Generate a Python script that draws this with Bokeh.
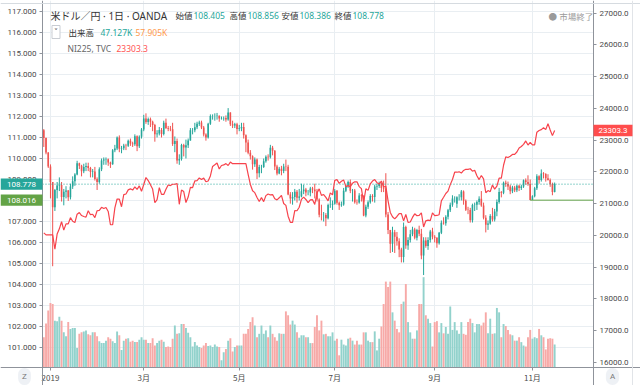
import pandas as pd
from bokeh.plotting import figure
from bokeh.models import (Range1d, LinearAxis, FixedTicker, PrintfTickFormatter, Span, Label,
                          ColumnDataSource, BoxAnnotation)
from bokeh.embed import file_html
from bokeh.resources import INLINE

# ---------------- data (USD/JPY daily, OANDA; NI225 overlay) ----------------
dates = [d.strftime("%Y-%m-%d") for d in pd.bdate_range("2018-12-27", "2019-11-15")]
dates = [d for d in dates if d != "2019-01-01"]

opens = [
    111.35, 110.98, 110.28,
    109.62, 108.88, 107.68, 108.50, 108.72, 108.74, 108.17, 108.42, 108.48, 108.16, 108.67, 108.92, 109.24, 109.77, 109.66, 109.39, 109.59, 109.64, 109.55, 109.36, 109.38, 109.02,
    108.88, 109.49, 109.90, 109.95, 109.97, 109.81, 109.73, 110.39, 110.48, 111.00, 110.47, 110.49, 110.62, 110.61, 110.85, 110.71, 110.68, 111.06, 110.58, 111.04,
    111.38, 111.91, 111.74, 111.88, 111.75, 111.60, 111.16, 111.19, 111.36, 111.17, 111.70, 111.45, 111.42, 111.39, 110.69, 110.83, 109.91, 109.98, 110.64, 110.52, 110.63,
    110.86, 111.35, 111.35, 111.49, 111.65, 111.72, 111.48, 111.14, 111.00, 111.65, 112.02, 112.02, 112.02, 112.03, 111.91, 111.92, 111.93, 111.86, 112.19, 111.63, 111.57, 111.63,
    111.40, 111.44, 111.50, 111.11, 110.76, 110.27, 110.11, 109.73, 109.95, 109.30, 109.60, 109.60, 109.87, 110.08, 110.06, 110.51, 110.37, 109.62, 109.29, 109.51, 109.40, 109.62, 109.61,
    108.28, 108.09, 108.17, 108.42, 108.13, 108.19, 108.44, 108.52, 108.38, 108.38, 108.57, 108.52, 108.44, 108.05, 107.32, 107.31, 107.31, 107.16, 107.78, 107.80,
    107.84, 108.46, 107.89, 107.77, 107.81, 108.47, 108.68, 108.88, 108.46, 108.48, 107.92, 107.91, 108.24, 108.22, 107.28, 107.70, 107.92, 108.21, 108.17, 108.67, 108.69, 108.82, 108.59,
    108.57, 107.33, 106.59, 105.94, 106.49, 106.27, 106.06, 105.67, 105.31, 106.74, 105.86, 106.12, 106.39, 106.62, 106.23, 106.60, 106.42, 105.38, 106.10, 105.83, 106.12, 106.52,
    106.27, 106.23, 105.97, 106.46, 106.94, 106.92, 107.23, 107.54, 107.80, 108.09, 107.85, 108.15, 108.15, 108.43, 107.99, 107.56, 107.55, 107.06, 107.79, 107.80, 107.93,
    108.08, 107.76, 107.18, 106.84, 106.90, 107.26, 107.09, 107.48, 107.93, 108.41, 108.37, 108.84, 108.79, 108.67, 108.44, 108.62, 108.49, 108.70, 108.60, 108.67, 108.97, 108.88, 108.79,
    108.02, 108.20, 108.58, 109.15, 108.98, 109.28, 109.26, 109.06, 108.98, 108.79, 108.405,
]
highs = [
    111.40, 111.00, 110.30,
    109.72, 108.88, 108.55, 108.88, 109.10, 108.88, 108.55, 108.68, 108.50, 108.80, 109.15, 109.30, 109.89, 109.80, 109.70, 109.75, 109.80, 109.80, 109.60, 109.50, 109.60, 109.10,
    109.58, 110.00, 110.05, 110.05, 110.00, 109.85, 110.45, 110.65, 111.05, 111.10, 110.60, 110.70, 110.70, 110.90, 110.95, 110.80, 111.15, 111.10, 111.10, 111.45,
    112.08, 112.15, 111.95, 111.95, 111.80, 111.65, 111.35, 111.50, 111.45, 111.80, 111.90, 111.55, 111.55, 111.70, 111.05, 110.95, 110.20, 110.70, 110.70, 110.90, 110.95,
    111.45, 111.45, 111.70, 111.75, 111.80, 111.80, 111.55, 111.20, 111.70, 112.10, 112.10, 112.15, 112.17, 112.05, 112.00, 112.00, 112.05, 112.40, 112.20, 111.80, 111.70, 111.70,
    111.60, 111.70, 111.70, 111.15, 110.90, 110.40, 110.15, 110.05, 110.00, 109.70, 109.70, 110.00, 110.15, 110.20, 110.65, 110.60, 110.40, 109.70, 109.60, 109.65, 109.75, 109.95, 109.70,
    108.40, 108.40, 108.55, 108.50, 108.55, 108.80, 108.75, 108.60, 108.50, 108.65, 108.65, 108.80, 108.55, 108.10, 107.80, 107.45, 107.40, 107.85, 108.15, 108.00,
    108.55, 108.50, 107.95, 107.95, 108.60, 108.75, 108.95, 109.00, 108.55, 108.55, 108.05, 108.35, 108.30, 108.25, 107.80, 108.00, 108.30, 108.30, 108.75, 108.80, 108.90, 108.85, 108.95,
    109.30, 107.45, 106.60, 106.75, 106.60, 106.50, 106.20, 105.75, 106.95, 106.80, 106.25, 106.60, 106.75, 106.70, 106.65, 106.80, 106.65, 106.25, 106.25, 106.25, 106.60, 106.70,
    106.35, 106.25, 106.50, 107.05, 107.20, 107.30, 107.60, 107.90, 108.25, 108.20, 108.20, 108.30, 108.50, 108.48, 108.05, 107.70, 107.65, 107.85, 107.90, 108.00, 108.20,
    108.45, 107.90, 107.30, 107.05, 107.35, 107.65, 107.60, 108.05, 108.60, 108.45, 108.90, 108.95, 108.90, 108.75, 108.70, 108.70, 108.75, 108.75, 108.75, 109.00, 109.05, 109.20, 109.00,
    108.25, 108.65, 109.25, 109.20, 109.48, 109.35, 109.30, 109.25, 109.05, 108.85, 108.856,
]
lows = [
    110.55, 110.20, 109.55,
    108.10, 104.87, 107.50, 108.10, 108.45, 107.95, 107.77, 108.10, 107.98, 108.05, 108.55, 108.70, 109.20, 109.50, 109.15, 109.30, 109.40, 109.40, 109.10, 109.10, 108.95, 108.50,
    108.80, 109.40, 109.70, 109.70, 109.65, 109.55, 109.70, 110.30, 110.40, 110.30, 110.25, 110.40, 110.40, 110.55, 110.60, 110.55, 110.60, 110.35, 110.50, 110.95,
    111.30, 111.65, 111.60, 111.50, 111.30, 110.80, 111.00, 111.10, 111.00, 111.10, 111.40, 111.30, 111.30, 110.60, 110.30, 109.75, 109.70, 109.90, 110.10, 110.00, 110.50,
    110.85, 111.15, 111.25, 111.40, 111.55, 111.40, 111.05, 110.85, 110.95, 111.60, 111.85, 111.80, 111.85, 111.75, 111.85, 111.80, 111.75, 111.80, 111.55, 111.45, 111.45, 111.15,
    111.30, 111.30, 110.95, 110.30, 110.20, 109.95, 109.47, 109.60, 109.02, 109.10, 109.30, 109.55, 109.80, 109.90, 110.00, 110.15, 109.45, 109.20, 109.25, 109.20, 109.30, 109.40, 108.25,
    107.85, 107.80, 108.00, 107.90, 108.00, 108.15, 108.30, 108.20, 108.25, 108.20, 108.35, 108.10, 107.95, 107.20, 107.05, 107.00, 106.78, 107.10, 107.65, 107.55,
    107.80, 107.80, 107.55, 107.70, 107.75, 108.40, 108.60, 108.35, 107.95, 107.85, 107.80, 107.85, 107.95, 107.25, 107.20, 107.60, 107.85, 107.95, 107.90, 108.50, 108.60, 108.40, 108.40,
    107.20, 106.40, 105.50, 105.55, 105.50, 105.85, 105.30, 105.05, 105.05, 105.70, 105.65, 106.00, 106.30, 106.15, 106.10, 106.30, 105.20, 104.45, 105.75, 105.65, 106.00, 106.15,
    106.00, 105.75, 105.90, 106.40, 106.85, 106.80, 107.10, 107.45, 107.70, 107.90, 107.65, 108.00, 108.00, 107.80, 107.50, 107.35, 106.95, 106.95, 107.50, 107.55, 107.80,
    107.70, 107.10, 106.48, 106.60, 106.85, 107.00, 107.00, 107.25, 107.85, 108.15, 108.30, 108.65, 108.50, 108.30, 108.35, 108.40, 108.40, 108.45, 108.50, 108.60, 108.75, 108.70, 108.016,
    108.02, 108.15, 108.50, 108.80, 108.90, 109.05, 108.90, 108.95, 108.65, 108.25, 108.386,
]
closes = [
    110.98, 110.28, 109.62,
    108.88, 107.68, 108.50, 108.72, 108.74, 108.17, 108.42, 108.48, 108.16, 108.67, 108.92, 109.24, 109.77, 109.66, 109.39, 109.59, 109.64, 109.55, 109.36, 109.38, 109.02, 108.88,
    109.49, 109.90, 109.95, 109.97, 109.81, 109.73, 110.39, 110.48, 111.00, 110.47, 110.49, 110.62, 110.61, 110.85, 110.71, 110.68, 111.06, 110.58, 111.04, 111.38,
    111.91, 111.74, 111.88, 111.75, 111.60, 111.16, 111.19, 111.36, 111.17, 111.70, 111.45, 111.42, 111.39, 110.69, 110.83, 109.91, 109.98, 110.64, 110.52, 110.63, 110.86,
    111.35, 111.35, 111.49, 111.65, 111.72, 111.48, 111.14, 111.00, 111.65, 112.02, 112.02, 112.02, 112.03, 111.91, 111.92, 111.93, 111.86, 112.19, 111.63, 111.57, 111.63, 111.40,
    111.44, 111.50, 111.11, 110.76, 110.27, 110.11, 109.73, 109.95, 109.30, 109.60, 109.60, 109.87, 110.08, 110.06, 110.51, 110.37, 109.62, 109.29, 109.51, 109.40, 109.62, 109.61, 108.28,
    108.09, 108.17, 108.42, 108.13, 108.19, 108.44, 108.52, 108.38, 108.38, 108.57, 108.52, 108.44, 108.05, 107.32, 107.31, 107.31, 107.16, 107.78, 107.80, 107.84,
    108.46, 107.89, 107.77, 107.81, 108.47, 108.68, 108.88, 108.46, 108.48, 107.92, 107.91, 108.24, 108.22, 107.28, 107.70, 107.92, 108.21, 108.17, 108.67, 108.69, 108.82, 108.59, 108.57,
    107.33, 106.59, 105.94, 106.49, 106.27, 106.06, 105.67, 105.31, 106.74, 105.86, 106.12, 106.39, 106.62, 106.23, 106.60, 106.42, 105.38, 106.10, 105.83, 106.12, 106.52, 106.27,
    106.23, 105.97, 106.46, 106.94, 106.92, 107.23, 107.54, 107.80, 108.09, 108.09, 108.15, 108.15, 108.43, 107.99, 107.56, 107.55, 107.06, 107.79, 107.80, 107.93, 108.08,
    107.76, 107.18, 106.84, 106.90, 107.26, 107.09, 107.48, 107.93, 108.41, 108.37, 108.84, 108.79, 108.67, 108.44, 108.62, 108.49, 108.70, 108.60, 108.67, 108.97, 108.88, 108.79, 108.02,
    108.20, 108.58, 109.15, 108.98, 109.28, 109.26, 109.06, 108.98, 108.79, 108.41, 108.778,
]
volume_k = [
    62, 90, 117,
    132, 130, 96, 95, 104, 96, 72, 64, 93, 79, 81, 81, 40, 69, 72, 74, 76, 68, 66, 72, 72, 64,
    54, 50, 50, 55, 62, 59, 54, 50, 74, 66, 36, 55, 59, 60, 53, 55, 52, 52, 57, 62,
    57, 57, 50, 50, 60, 45, 50, 55, 57, 53, 42, 43, 42, 59, 86, 69, 70, 89, 89, 81, 71,
    62, 43, 52, 45, 42, 40, 45, 50, 44, 45, 42, 47, 43, 42, 15, 31, 38, 55, 60, 33, 42, 45,
    45, 45, 69, 69, 79, 93, 103, 86, 62, 69, 86, 69, 76, 62, 86, 69, 62, 55, 70, 69, 69, 115, 107,
    88, 96, 88, 72, 61, 66, 66, 62, 62, 50, 50, 83, 107, 76, 96, 68, 69, 64, 64, 72,
    55, 59, 25, 57, 47, 45, 59, 61, 55, 47, 55, 47, 47, 72, 72, 55, 52, 52, 74, 35, 59, 84, 130,
    176, 165, 176, 113, 96, 79, 72, 130, 135, 171, 93, 72, 59, 59, 76, 130, 130, 185, 107, 100, 91, 43,
    93, 95, 72, 91, 70, 83, 69, 125, 77, 93, 76, 69, 93, 69, 67, 93, 100, 91, 72, 89, 89,
    86, 92, 113, 70, 100, 69, 70, 122, 113, 62, 89, 85, 77, 68, 66, 55, 55, 62, 52, 45, 43, 62, 77,
    59, 62, 60, 79, 66, 62, 37, 59, 60, 59, 47.127,
]
n225 = [
    20077, 20014, 20014,
    20014, 20014, 19561, 20038, 20204, 20427, 20163, 20359, 20359, 20555, 20442, 20402, 20666, 20719, 20622, 20593, 20574, 20773, 20649, 20664, 20556, 20773,
    20788, 20883, 20844, 20874, 20751, 20333, 20333, 20864, 21144, 21139, 20900, 21281, 21302, 21431, 21464, 21425, 21528, 21449, 21556, 21385,
    21602, 21822, 21726, 21596, 21456, 21025, 21125, 21503, 21290, 21287, 21450, 21584, 21566, 21608, 21608, 21627, 20977, 21428, 21378, 21033, 21205,
    21509, 21505, 21713, 21724, 21807, 21761, 21802, 21687, 21711, 21870, 22169, 22221, 22277, 22090, 22200, 22218, 22259, 22200, 22307, 22258, 22258, 22258,
    22258, 22258, 22258, 22258, 21923, 21602, 21402, 21344, 21191, 21067, 21188, 21062, 21250, 21301, 21272, 21283, 21151, 21117, 21182, 21260, 21003, 20942, 20601,
    20410, 20408, 20776, 20774, 20884, 21134, 21204, 21129, 21032, 21116, 21124, 20972, 21333, 21462, 21258, 21285, 21193, 21086, 21338, 21275,
    21729, 21754, 21638, 21702, 21746, 21534, 21565, 21533, 21643, 21685, 21685, 21535, 21469, 21046, 21466, 21416, 21620, 21709, 21756, 21658, 21616, 21709, 21521,
    21540, 21087, 20720, 20585, 20516, 20593, 20684, 20684, 20455, 20655, 20405, 20418, 20563, 20677, 20618, 20628, 20710, 20261, 20456, 20479, 20461, 20704,
    20620, 20625, 20649, 21085, 21199, 21318, 21392, 21597, 21759, 21988, 21988, 22001, 21960, 22044, 22079, 22079, 22098, 22020, 22048, 21878, 21756,
    21885, 21778, 21341, 21410, 21375, 21587, 21456, 21551, 21799, 21799, 22207, 22472, 22451, 22492, 22548, 22548, 22625, 22750, 22799, 22867, 22974, 22843, 22927,
    22850, 22850, 23251, 23303, 23330, 23391, 23331, 23520, 23319, 23141, 23303.3,
]
volume_ma_k = 57.905
level_price = 108.016
level_from = "2019-10-31"

month_starts = ["2019-01-02", "2019-03-01", "2019-05-01", "2019-07-01", "2019-09-02", "2019-11-01"]
month_labels = ["2019", "3月", "5月", "7月", "9月", "11月"]
usd_ticks = list(range(101, 118))
n225_ticks = list(range(16000, 27001, 1000))

title_text = "米ドル／円 · 1日 · OANDA"
overlay_name = "NI225, TVC"

# ---------------- styling / layout ----------------
W, H = 640, 385
UP, DN = "#26a69a", "#ef5350"
VUP, VDN = "#92d2cc", "#f7a9a7"
N225_COL = "#f7434c"
LEVEL_COL = "#63a346"
GRID = "#e9eef2"
AXIS = "#8f939b"
TXT = "#4a4a4a"
CJK = "Noto Sans CJK JP"
MIX = "'Noto Sans', 'Noto Sans CJK JP'"
NUM = "Roboto"

# data limits of the price pane (left/right price-scale edges, bottom time-scale edge)
X_LEFT, X_RIGHT, X_BORDER = -0.585, 247.5, 265.06
USD_BOTTOM, USD_TOPLINE = 100.048, 117.381

idx = list(range(len(dates)))
is_up = [c >= o for o, c in zip(opens, closes)]
src = ColumnDataSource(dict(
    x=idx, o=opens, h=highs, l=lows, c=closes, v=volume_k, n=n225,
    col=[UP if u else DN for u in is_up],
    vcol=[VUP if u else VDN for u in is_up],
))

p = figure(width=W, height=H, output_backend="svg", toolbar_location=None,
           x_range=Range1d(-19.496, 268.66), y_range=Range1d(99.19, 117.524),
           min_border=0, min_border_left=0, min_border_right=0, min_border_top=0, min_border_bottom=0,
           background_fill_color="white", border_fill_color="white")
p.extra_y_ranges = {"n225": Range1d(15266, 27400), "vol": Range1d(-36.9, 752.0)}
p.outline_line_color = None

# axes (drawn at the pane edges)
ya = p.yaxis[0]
ya.ticker = FixedTicker(ticks=usd_ticks)
ya.formatter = PrintfTickFormatter(format="%.3f")
ya.fixed_location = X_LEFT
ra = LinearAxis(y_range_name="n225", ticker=FixedTicker(ticks=n225_ticks),
                formatter=PrintfTickFormatter(format="%.1f"), fixed_location=X_RIGHT)
p.add_layout(ra, "right")
xa = p.xaxis[0]
tick_idx = [dates.index(d) for d in month_starts]
xa.ticker = FixedTicker(ticks=tick_idx)
xa.major_label_overrides = {t: lab for t, lab in zip(tick_idx, month_labels)}
xa.fixed_location = USD_BOTTOM

for ax in (ya, ra, xa):
    ax.major_label_text_font = NUM
    ax.major_label_text_font_size = "8px"
    ax.major_label_text_color = TXT
    ax.axis_line_color = AXIS
    ax.major_tick_line_color = AXIS
    ax.major_tick_out = 3
    ax.major_tick_in = 0
    ax.minor_tick_line_color = None
    ax.major_label_standoff = 3
xa.major_label_text_font = CJK
xa.major_label_standoff = 2

p.xgrid.grid_line_color = GRID
p.ygrid.grid_line_color = GRID

# keep grid lines out of the scale areas
for kw in (dict(right=X_LEFT), dict(left=X_RIGHT), dict(top=USD_BOTTOM)):
    p.add_layout(BoxAnnotation(fill_color="white", fill_alpha=1, line_color=None, level="underlay", **kw))

# volume
p.vbar(x="x", top="v", bottom=0, width=0.86, fill_color="vcol", line_color=None,
       y_range_name="vol", source=src)
# candles
p.segment(x0="x", y0="l", x1="x", y1="h", line_color="col", line_width=1, source=src)
p.vbar(x="x", top="o", bottom="c", width=0.72, fill_color="col", line_color=None, source=src)
# last price (dotted) and horizontal level line
p.ray(x=[X_LEFT], y=[closes[-1]], length=X_RIGHT - X_LEFT, length_units="data", angle=0,
      line_color=UP, line_dash="1 2", line_width=1)
lvl_x = dates.index(level_from)
p.ray(x=[lvl_x], y=[level_price], length=X_RIGHT - lvl_x, length_units="data", angle=0,
      line_color=LEVEL_COL, line_width=1)
# NI225 overlay
p.line(x="x", y="n", y_range_name="n225", line_color=N225_COL, line_width=1.2, source=src)

# pane borders
p.add_layout(Span(location=USD_TOPLINE, dimension="width", line_color="#d6dbe0", line_width=1))
p.add_layout(Span(location=X_BORDER, dimension="height", line_color="#e1e4e8", line_width=1))

# price tags on the scales
p.add_layout(BoxAnnotation(right=X_LEFT, bottom=closes[-1] - 0.27, top=closes[-1] + 0.27,
                           fill_color=UP, fill_alpha=1, line_color=None))
p.add_layout(BoxAnnotation(right=X_LEFT, bottom=level_price - 0.27, top=level_price + 0.27,
                           fill_color=LEVEL_COL, fill_alpha=1, line_color=None))
p.add_layout(BoxAnnotation(left=X_RIGHT, right=X_BORDER, bottom=n225[-1] - 180, top=n225[-1] + 180,
                           y_range_name="n225", fill_color="#ff4d4d", fill_alpha=1, line_color=None))
for val, fmt, xs, align, rng in ((closes[-1], "%.3f", 21, "center", "default"),
                                  (level_price, "%.3f", 21, "center", "default"),
                                  (n225[-1], "%.1f", 598, "left", "n225")):
    p.add_layout(Label(x=xs, y=val, x_units="screen", y_units="data", y_range_name=rng,
                       text=fmt % val, text_color="white", text_font_size="8px", text_font=NUM,
                       text_align=align, text_baseline="middle"))


def put(text, px, py, color, size="8.5px", font=MIX, align="left", **kw):
    p.add_layout(Label(x=px, y=H - py, x_units="screen", y_units="screen",
                       text=text, text_color=color, text_font_size=size, text_font=font,
                       text_align=align, text_baseline="middle", **kw))


# legend rows
put(title_text, 50, 15, "#333333", size="10px")
for lab, val, px in (("始値", opens[-1], 175), ("高値", highs[-1], 229),
                     ("安値", lows[-1], 281), ("終値", closes[-1], 334)):
    put(lab, px, 15, "#333333")
    put(f"{val:.3f}", px + 18, 15, UP)
put("˅", 55.5, 31.5, "#555555", size="8px", font="DejaVu Sans", align="center",
    border_line_color="#c9cdd3", background_fill_color="white", padding=2)
put("出来高", 68, 32, "#333333")
put(f"{volume_k[-1]:.3f}K", 100, 32, UP)
put(f"{volume_ma_k:.3f}K", 135, 32, "#ff9a4d")
put(overlay_name, 67, 48, "#666666")
put(f"{n225[-1]:.1f}", 116, 48, "#ff5252")
put("● 市場終了", 548, 16, "#9a9a9a")

# corner buttons
put("Z", 24, 376, "#777777", size="8px", font=NUM, align="center",
    background_fill_color="#eef1f5", padding=4, border_radius=8)
put("A", 612, 376, "#777777", size="8px", font=NUM, align="center",
    background_fill_color="#eef1f5", padding=4, border_radius=8)

open("out.html", "w").write(file_html(p, INLINE))
